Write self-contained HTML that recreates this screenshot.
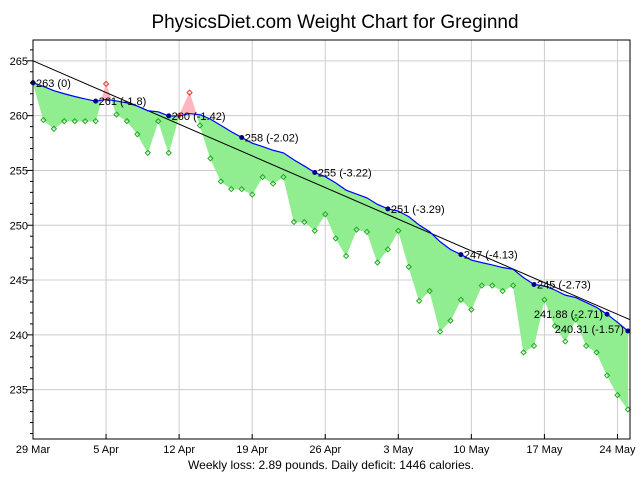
<!DOCTYPE html>
<html><head><meta charset="utf-8"><style>
body{margin:0;background:#fff;}
svg text{font-family:"Liberation Sans",sans-serif;}
</style></head><body>
<svg id="chart" width="640" height="480" xmlns="http://www.w3.org/2000/svg">
<text x="335" y="28" font-size="19" text-anchor="middle">PhysicsDiet.com Weight Chart for Greginnd</text>
<text x="331" y="469" font-size="12" text-anchor="middle">Weekly loss: 2.89 pounds. Daily deficit: 1446 calories.</text>
<g id="grid"></g><g id="fills"></g><g id="lines"></g><g id="marks"></g><g id="axes"></g>
</svg>
<script>
const weights=[263,259.6,258.8,259.5,259.5,259.5,259.5,262.9,260.1,259.5,258.3,256.6,259.5,256.6,260,262.1,259.1,256.1,254.0,253.3,253.3,252.8,254.4,253.8,254.4,250.3,250.3,249.5,251.0,248.8,247.2,249.6,249.4,246.6,247.8,249.5,246.2,243.1,244.0,240.3,241.3,243.2,242.3,244.5,244.5,244.0,244.5,238.4,239.0,243.2,240.8,239.4,241.4,239.0,238.4,236.3,234.5,233.2];
const xTickLabels=["29 Mar","5 Apr","12 Apr","19 Apr","26 Apr","3 May","10 May","17 May","24 May"];
const yTicks=[235,240,245,250,255,260,265];
const labelDays=[0,6,13,20,27,34,41,48,55,57];
const labelTexts=["263 (0)","261 (-1.8)","260 (-1.42)","258 (-2.02)","255 (-3.22)","251 (-3.29)","247 (-4.13)","245 (-2.73)","241.88 (-2.71)","240.31 (-1.57)"];
const lineStart=265.0, weeklyLoss=2.89;
const L=33,R=630,T=40,B=439,yMin=230.5,yMax=266.9,dMax=57.2;
const X=d=>L+d*(R-L)/dMax, Y=v=>B-(v-yMin)*(B-T)/(yMax-yMin);
const NS="http://www.w3.org/2000/svg";
function mk(p,tag,at){const e=document.createElementNS(NS,tag);for(const k in at)e.setAttribute(k,at[k]);document.getElementById(p).appendChild(e);return e;}
// trend
const trend=[];weights.forEach((w,i)=>trend.push(i?trend[i-1]+0.1*(w-trend[i-1]):w));
// grid
xTickLabels.forEach((t,i)=>{const x=X(i*7);
 let g=mk('grid','line',{x1:x,x2:x,y1:T,y2:B,stroke:'#ccc'});
 let tk=mk('axes','line',{x1:x,x2:x,y1:B,y2:B-5,stroke:'#000'});
 let tx=mk('axes','text',{x:x,y:B+14,'font-size':11,'text-anchor':'middle'});tx.textContent=t;});
yTicks.forEach(v=>{const y=Y(v);
 let g=mk('grid','line',{x1:L,x2:R,y1:y,y2:y,stroke:'#ccc'});
 let tx=mk('axes','text',{x:L-5,y:y+4,'font-size':11,'text-anchor':'end'});tx.textContent=v;});
for(let v=231;v<=266;v++){const y=Y(v);let tk=mk('axes','line',{x1:L-(v%5?3:6),x2:L,y1:y,y2:y,stroke:'#000'});}
// fills
for(let i=0;i<weights.length-1;i++){
 const a=weights[i]-trend[i],b=weights[i+1]-trend[i+1];
 const pts=(d0,d1,fn)=>{};
 const seg=(t0,t1,col)=>{const d0=i+t0,d1=i+t1;
  const w=t=>weights[i]+(weights[i+1]-weights[i])*t, tr=t=>trend[i]+(trend[i+1]-trend[i])*t;
  let p=mk('fills','polygon',{points:`${X(d0)},${Y(w(t0))} ${X(d1)},${Y(w(t1))} ${X(d1)},${Y(tr(t1))} ${X(d0)},${Y(tr(t0))}`,fill:col,stroke:col,'stroke-width':0.5});
  };
 if(a*b<0){const t=a/(a-b);seg(0,t,a<0?'#90ee90':'#ffb6c1');seg(t,1,b<0?'#90ee90':'#ffb6c1');}
 else seg(0,1,(a+b)<=0?'#90ee90':'#ffb6c1');
}
// regression line
let rl=mk('lines','line',{x1:X(0),y1:Y(lineStart),x2:X(dMax),y2:Y(lineStart-weeklyLoss/7*dMax),stroke:'#000','stroke-width':1});

let tl=mk('lines','polyline',{points:trend.map((t,i)=>X(i)+','+Y(t)).join(' '),fill:'none',stroke:'#00f','stroke-width':1.2});

// markers
weights.forEach((w,i)=>{const x=X(i),y=Y(w),c=w>trend[i]?'#e33':'#2a2';
 let m=mk('marks','polygon',{points:`${x},${y-2.5} ${x+2.5},${y} ${x},${y+2.5} ${x-2.5},${y}`,fill:'none',stroke:c,'stroke-width':1});
 });
labelDays.forEach((d,k)=>{const x=X(d),y=Y(trend[d]);
 let c=mk('marks','circle',{cx:x,cy:y,r:2.5,fill:'#008'});
 const right=k<8, last=k==9;
 let t=mk('marks','text',{x:right?x+3:(last?x-4:x-4),y:last?y+2:y+4,'font-size':11,'text-anchor':right?'start':'end'});
 t.textContent=labelTexts[k];});
let fr=mk('axes','rect',{x:L,y:T,width:R-L,height:B-T,fill:'none',stroke:'#000'});
</script>
</body></html>
